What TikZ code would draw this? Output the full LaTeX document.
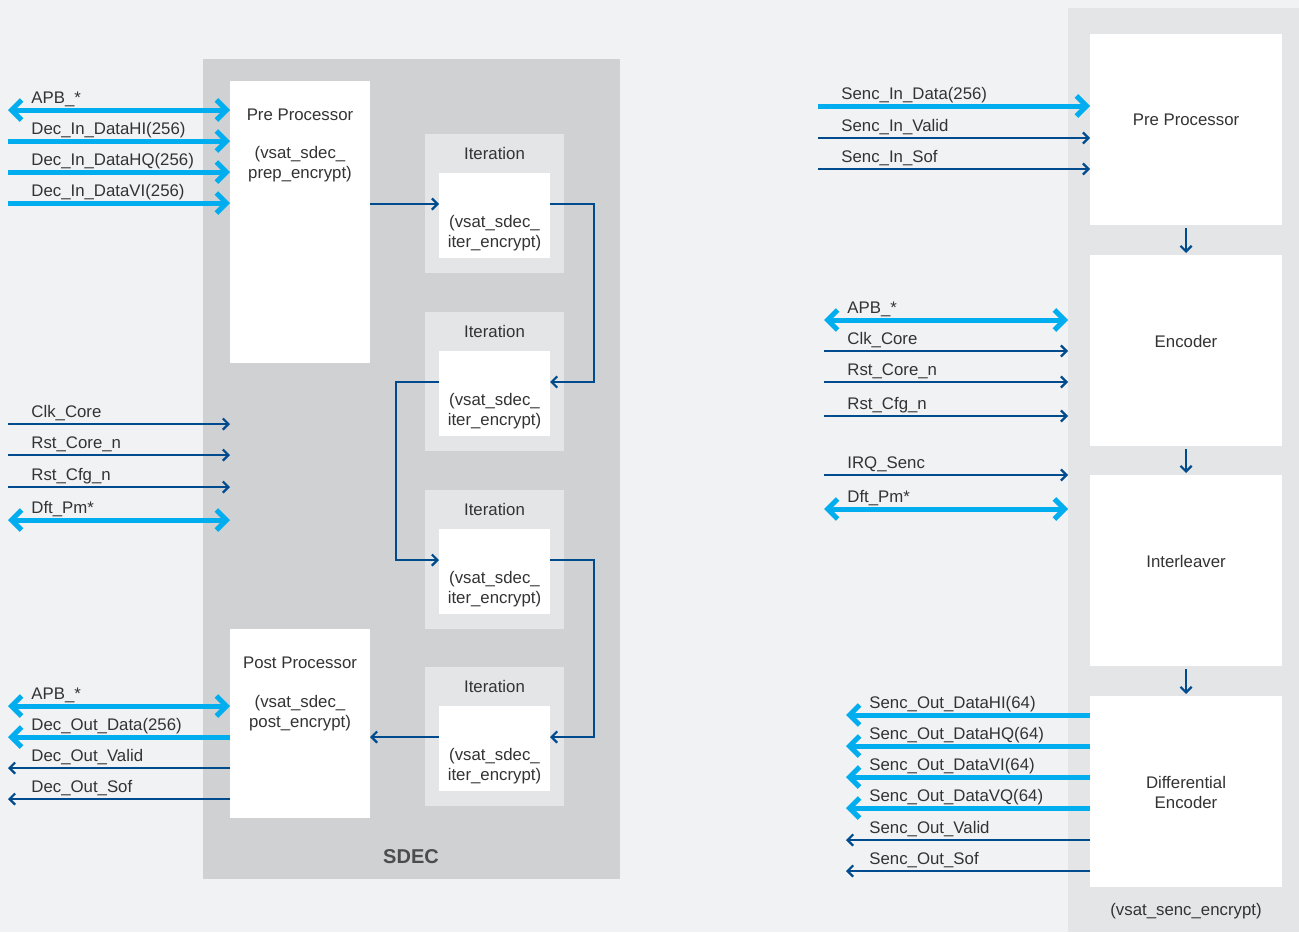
\documentclass[tikz,border=0pt]{standalone}
\usepackage{fontspec}
\setmainfont{Liberation Sans}
\usetikzlibrary{arrows.meta}
\definecolor{bgcol}{HTML}{F1F2F4}
\definecolor{sdeccol}{HTML}{D0D1D3}
\definecolor{lightcol}{HTML}{E4E5E7}
\definecolor{buscol}{HTML}{00AEEF}
\definecolor{wirecol}{HTML}{004B8D}
\definecolor{txtcol}{HTML}{333333}
\tikzset{
	boxstyle/.style={rectangle,inner sep=0pt,outer sep=0pt,anchor=north west},
	sdecstyle/.style={boxstyle,fill=sdeccol,minimum width=208.5pt,minimum height=410pt},
	sencstyle/.style={boxstyle,fill=lightcol,minimum width=115.5pt,minimum height=462pt},
	procstyle/.style={boxstyle,fill=white,minimum width=70pt},
	iterstyle/.style={boxstyle,fill=lightcol,minimum width=69.5pt,minimum height=69.5pt},
	innerstyle/.style={boxstyle,fill=white,minimum width=55.5pt,minimum height=42.5pt},
	blockstyle/.style={boxstyle,fill=white,minimum width=96pt,minimum height=95.5pt},
	txtstyle/.style={text=txtcol,inner sep=0pt,align=center,font=\fontsize{8.4}{10}\selectfont},
	labstyle/.style={txtstyle,anchor=base west},
	busboth/.style={buscol,line width=2.5pt,{Straight Barb[length=5pt,width=10pt]}-{Straight Barb[length=5pt,width=10pt]}},
	busin/.style={buscol,line width=2.5pt,-{Straight Barb[length=5pt,width=10pt]}},
	busout/.style={busin},
	wirein/.style={wirecol,line width=1.1pt,-{Straight Barb[length=2.8pt,width=5.6pt]}},
	wireout/.style={wirein}
}
\begin{document}
\begin{tikzpicture}[x=0.5pt,y=-0.5pt]
		\fill[bgcol] (0,0) rectangle (1299,932);
		\useasboundingbox (0,0) rectangle (1299,932);
		% SDEC
		\node[sdecstyle] (sdec) at (203,59) {};
		\node[txtstyle,font=\fontsize{10}{12}\selectfont\bfseries,text=black!70] at (411,857) {SDEC};
		\node[procstyle,minimum height=141pt] (pre) at (230,81) {};
		\node[txtstyle] at (300,115) {Pre Processor};
		\node[txtstyle] at (300,164) {(vsat\_sdec\_\\prep\_encrypt)};
		\node[procstyle,minimum height=94.5pt] (post) at (230,629) {};
		\node[txtstyle] at (300,663) {Post Processor};
		\node[txtstyle] at (300,713) {(vsat\_sdec\_\\post\_encrypt)};
		\foreach \i/\y in {1/134,2/312,3/490,4/667}{
			\node[iterstyle] (it\i) at (425,\y) {};
			\node[innerstyle] (in\i) at (439,\y+39) {};
			\node[txtstyle] at (494.5,\y+19) {Iteration};
			\node[txtstyle] at (494.5,\y+99) {(vsat\_sdec\_\\iter\_encrypt)};
			\coordinate (pL\i) at (in\i.west |- 0,\y+70);
			\coordinate (pR\i) at (in\i.east |- 0,\y+70);
		}
		\draw[wirein] (pre.east |- pL1) -- (pL1);
		\draw[wirein] (pR1) -- ([xshift=22pt]pR1) |- (pR2);
		\draw[wirein] (pL2) -- ([xshift=-21.5pt]pL2) |- (pL3);
		\draw[wirein] (pR3) -- ([xshift=22pt]pR3) |- (pR4);
		\draw[wirein] (pL4) -- (pL4 -| post.east);
		% SDEC ports
		\foreach \y/\st/\lab in {110/busboth/APB\_*,141/busin/Dec\_In\_DataHI(256),172/busin/Dec\_In\_DataHQ(256),203/busin/Dec\_In\_DataVI(256),424/wirein/Clk\_Core,455/wirein/Rst\_Core\_n,487/wirein/Rst\_Cfg\_n,520/busboth/Dft\_Pm*}{
			\coordinate (dl\y) at (8,\y);
			\draw[\st] (dl\y) -- (dl\y -| pre.west);
			\node[labstyle] at (31,\y-7) {\lab};
		}
		\foreach \y/\st/\lab in {706/busboth/APB\_*,737/busout/Dec\_Out\_Data(256),768/wireout/Dec\_Out\_Valid,799/wireout/Dec\_Out\_Sof}{
			\coordinate (dl\y) at (8,\y);
			\draw[\st] (dl\y -| post.west) -- (dl\y);
			\node[labstyle] at (31,\y-7) {\lab};
		}
		% SENC
		\node[sencstyle] (senc) at (1068,8) {};
		\node[blockstyle] (rpre) at (1090,34) {};
		\node[txtstyle] at (rpre.center |- 0,120) {Pre Processor};
		\node[blockstyle] (renc) at (1090,255) {};
		\node[txtstyle] at (renc.center |- 0,341) {Encoder};
		\node[blockstyle] (rint) at (1090,475) {};
		\node[txtstyle] at (rint.center |- 0,561) {Interleaver};
		\node[blockstyle] (rdiff) at (1090,696) {};
		\node[txtstyle] at (rdiff.center |- 0,792) {Differential\\Encoder};
		\node[txtstyle] at (1186,911) {(vsat\_senc\_encrypt)};
		\draw[wirein] ([yshift=-1.5pt]rpre.south) -- ([yshift=1pt]renc.north);
		\draw[wirein] ([yshift=-1.5pt]renc.south) -- ([yshift=1pt]rint.north);
		\draw[wirein] ([yshift=-1.5pt]rint.south) -- ([yshift=1pt]rdiff.north);
		% SENC ports
		\foreach \y/\st/\lab in {106/busin/Senc\_In\_Data(256),138/wirein/Senc\_In\_Valid,169/wirein/Senc\_In\_Sof}{
			\coordinate (rl\y) at (818,\y);
			\draw[\st] (rl\y) -- (rl\y -| rpre.west);
			\node[labstyle] at (841,\y-7) {\lab};
		}
		\foreach \y/\st/\lab in {320/busboth/APB\_*,351/wirein/Clk\_Core,382/wirein/Rst\_Core\_n,416/wirein/Rst\_Cfg\_n,475/wirein/IRQ\_Senc,509/busboth/Dft\_Pm*}{
			\coordinate (rl\y) at (824,\y);
			\draw[\st] (rl\y) -- (rl\y -| senc.west);
			\node[labstyle] at (847,\y-7) {\lab};
		}
		\foreach \y/\st/\lab in {715/busout/Senc\_Out\_DataHI(64),746/busout/Senc\_Out\_DataHQ(64),777/busout/Senc\_Out\_DataVI(64),808/busout/Senc\_Out\_DataVQ(64),840/wireout/Senc\_Out\_Valid,871/wireout/Senc\_Out\_Sof}{
			\coordinate (rl\y) at (846,\y);
			\draw[\st] (rl\y -| rdiff.west) -- (rl\y);
			\node[labstyle] at (869,\y-7) {\lab};
		}
		\end{tikzpicture}
\end{document}
